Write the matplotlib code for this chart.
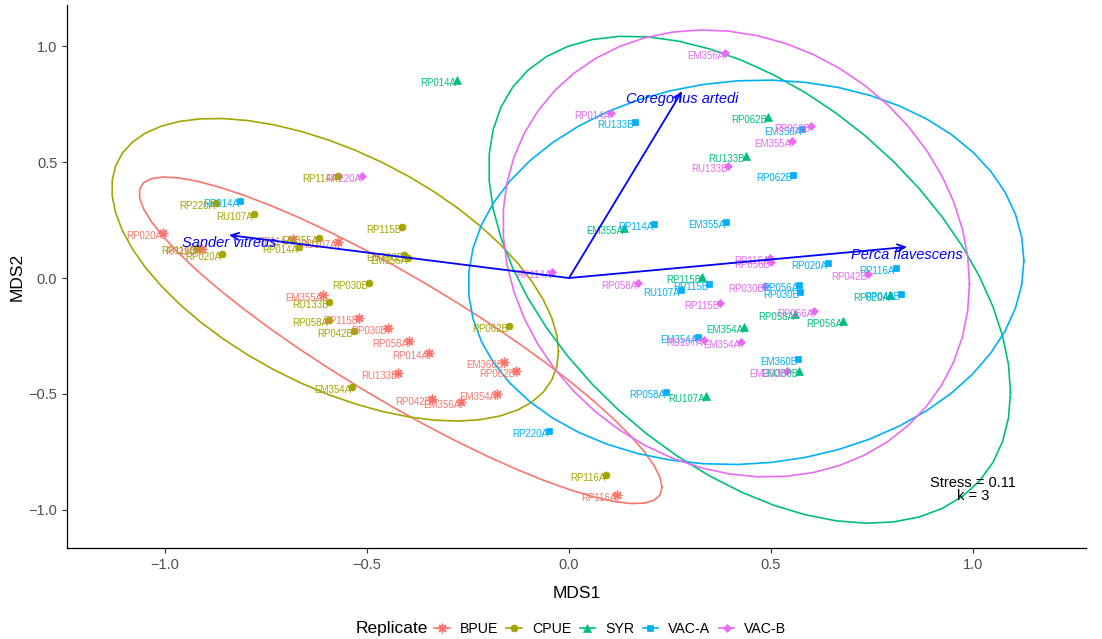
import numpy as np
import matplotlib
matplotlib.use("Agg")
import matplotlib.pyplot as plt
from matplotlib.lines import Line2D

plt.rcParams['font.family'] = ['Liberation Sans', 'DejaVu Sans']

# -------------------------------------------------
# NMDS scores per replicate
# -------------------------------------------------
bpue_lab = ["RP020A", "RP220A", "RP114A", "RU107A", "EM355A", "RP115B", "RP030B", "RP058A",
            "RP014A", "RU133B", "EM360B", "RP062B", "EM354A", "RP042B", "EM356A", "RP116A"]
bpue_x = [-1.005, -0.908, -0.683, -0.572, -0.609, -0.520, -0.448, -0.396,
          -0.347, -0.423, -0.161, -0.131, -0.178, -0.339, -0.267, 0.119]
bpue_y = [0.194, 0.125, 0.168, 0.155, -0.073, -0.172, -0.216, -0.272,
          -0.323, -0.409, -0.362, -0.401, -0.500, -0.522, -0.534, -0.935]

cpue_lab = ["RP114A", "RP220A", "RU107A", "RP115B", "EM360B", "EM356A", "RP030B", "RU133B", "RP058A",
            "RP042B", "RP062B", "EM354A", "RP116A", "RP014A", "EM355A", "RP020A", "RP116B"]
cpue_x = [-0.572, -0.874, -0.780, -0.413, -0.408, -0.399, -0.495, -0.594, -0.594,
          -0.532, -0.149, -0.537, 0.092, -0.668, -0.619, -0.859, -0.921]
cpue_y = [0.440, 0.323, 0.276, 0.220, 0.099, 0.086, -0.022, -0.103, -0.181,
          -0.228, -0.207, -0.470, -0.849, 0.134, 0.172, 0.103, 0.129]

syr_lab = ["RP014A", "RP062B", "RU133B", "EM355A", "RP115B", "RP058A", "RP056A", "EM354A",
           "RP020A", "EM360B", "RU107A"]
syr_x = [-0.277, 0.493, 0.438, 0.136, 0.329, 0.559, 0.678, 0.433, 0.795, 0.569, 0.339]
syr_y = [0.853, 0.694, 0.526, 0.216, 0.004, -0.155, -0.185, -0.211, -0.073, -0.401, -0.509]

vaca_lab = ["RP014A", "RU133B", "RP062B", "EM356A", "RP114A", "EM355A", "RP020A", "RP116A", "RP115B",
            "RU107A", "RP056A", "RP030B", "RP042B", "EM354A", "EM360B", "RP058A", "RP220A"]
vaca_x = [-0.814, 0.163, 0.554, 0.577, 0.210, 0.389, 0.641, 0.809, 0.347,
          0.277, 0.569, 0.572, 0.822, 0.319, 0.567, 0.240, -0.050]
vaca_y = [0.332, 0.672, 0.444, 0.642, 0.233, 0.241, 0.065, 0.043, -0.026,
          -0.052, -0.030, -0.060, -0.069, -0.254, -0.349, -0.491, -0.659]

vacb_lab = ["RP220A", "EM356A", "RP014A", "RP062B", "EM355A", "RU133B", "RP114A", "RP058A", "RP116A",
            "RP056B", "RP042B", "RP030B", "RP115B", "RP056A", "RU107A", "EM354A", "EM360B"]
vacb_x = [-0.512, 0.386, 0.104, 0.599, 0.552, 0.394, -0.042, 0.171, 0.498,
          0.500, 0.740, 0.485, 0.374, 0.606, 0.334, 0.426, 0.540]
vacb_y = [0.440, 0.970, 0.711, 0.655, 0.591, 0.483, 0.026, -0.022, 0.086,
          0.069, 0.017, -0.034, -0.108, -0.142, -0.267, -0.276, -0.401]

# species vectors (envfit)
species = ["Sander vitreus", "Coregonus artedi", "Perca flavescens"]
sp_x = [-0.842, 0.280, 0.837]
sp_y = [0.185, 0.806, 0.134]

replicates = ["BPUE", "CPUE", "SYR", "VAC-A", "VAC-B"]
colors = ["#F8766D", "#A3A500", "#00BF7D", "#00B0F6", "#E76BF3"]
markers = [(8, 2, 0), "o", "^", "s", "D"]
msizes = [7, 5, 6, 5, 3.6]

groups = [
    (bpue_lab, bpue_x, bpue_y),
    (cpue_lab, cpue_x, cpue_y),
    (syr_lab, syr_x, syr_y),
    (vaca_lab, vaca_x, vaca_y),
    (vacb_lab, vacb_x, vacb_y),
]


# -------------------------------------------------
# stat_ellipse(type = "t") equivalent
# -------------------------------------------------
def cov_trob(X, nu=5, maxit=25, tol=0.01):
    n, p = X.shape
    wt = np.ones(n)
    loc = X.mean(axis=0)
    w = np.sqrt(wt)
    for _ in range(maxit):
        w0 = w
        Xc = X - loc
        sw = np.sqrt(w / w.sum())
        _, d, vt = np.linalg.svd(sw[:, None] * Xc, full_matrices=False)
        wX = Xc @ vt.T @ np.diag(1 / d)
        Q = (wX ** 2).sum(axis=1)
        w = (wt * (nu + p)) / (nu + Q)
        loc = (w[:, None] * X).sum(axis=0) / w.sum()
        if np.all(np.abs(w - w0) < tol):
            break
    sX = np.sqrt(w)[:, None] * Xc
    return loc, sX.T @ sX / wt.sum()


def t_ellipse(x, y, level=0.95, segments=51):
    X = np.column_stack([x, y])
    center, shape = cov_trob(X)
    dfd = len(x) - 1
    f = dfd / 2 * ((1 - level) ** (-2 / dfd) - 1)   # qf(level, 2, dfd)
    radius = np.sqrt(2 * f)
    a = np.linspace(0, 2 * np.pi, segments + 1)
    circ = np.column_stack([np.cos(a), np.sin(a)])
    L = np.linalg.cholesky(shape)
    return center + radius * circ @ L.T


# -------------------------------------------------
# PLOT
# -------------------------------------------------
fig = plt.figure(figsize=(11.02, 6.39), dpi=100)
ax = fig.add_axes([67 / 1102, 91 / 639, 1019 / 1102, 543 / 639])

for (lab, x, y), col, mk, ms in zip(groups, colors, markers, msizes):
    el = t_ellipse(np.array(x), np.array(y))
    ax.plot(el[:, 0], el[:, 1], color=col, lw=1.2, zorder=1)
    ax.plot(x, y, linestyle="none", marker=mk, color=col, markersize=ms,
            markeredgewidth=1.0 if mk == (8, 2, 0) else 0.5, zorder=2)
    for xi, yi, t in zip(x, y, lab):
        ax.annotate(t, (xi, yi), xytext=(-0.5, -2.2), textcoords="offset points",
                    ha="right", va="center", fontsize=7, color=col, zorder=3)

for name, xe, ye in zip(species, sp_x, sp_y):
    ax.annotate("", xy=(xe, ye), xytext=(0, 0),
                arrowprops=dict(arrowstyle="->,head_length=0.55,head_width=0.25",
                                color="#0000FF", lw=1.3, shrinkA=0, shrinkB=0), zorder=4)
    ax.annotate(name, (xe, ye), xytext=(0, -6), textcoords="offset points",
                ha="center", va="center", fontsize=10.5, style="italic",
                color="#0000FF", zorder=5)

ax.text(1.0, -0.912, "Stress = 0.11\nk = 3", ha="center", va="center",
        fontsize=10.5, linespacing=0.95, zorder=5)

ax.set_xlim(-1.243, 1.280)
ax.set_ylim(-1.164, 1.177)
ax.set_xticks([-1.0, -0.5, 0.0, 0.5, 1.0])
ax.set_yticks([-1.0, -0.5, 0.0, 0.5, 1.0])
ax.set_xticklabels(["\u22121.0", "\u22120.5", "0.0", "0.5", "1.0"])
ax.set_yticklabels(["\u22121.0", "\u22120.5", "0.0", "0.5", "1.0"])
ax.tick_params(labelsize=10.5, labelcolor="#4D4D4D", color="#333333", length=3.5, width=0.8)
for s in ["top", "right"]:
    ax.spines[s].set_visible(False)
for s in ["left", "bottom"]:
    ax.spines[s].set_linewidth(0.9)
ax.set_xlabel("MDS1", fontsize=12.5, labelpad=10)
ax.set_ylabel("MDS2", fontsize=12.5, labelpad=3)

# legend at the bottom
handles = [Line2D([0], [0], color=c, lw=1.2, marker=m, markersize=s,
                  markeredgewidth=1.0 if m == (8, 2, 0) else 0.5)
           for c, m, s in zip(colors, markers, msizes)]
fig.text(356 / 1102, 1 - 629 / 639, "Replicate", fontsize=12.5, ha="left", va="center")
fig.legend(handles, replicates, loc="center left", bbox_to_anchor=(434 / 1102, 1 - 629 / 639),
           ncol=5, frameon=False, fontsize=10.2, handlelength=1.1, handletextpad=0.7,
           columnspacing=0.6, borderaxespad=0, borderpad=0)

fig.savefig("out.png", dpi=100)
